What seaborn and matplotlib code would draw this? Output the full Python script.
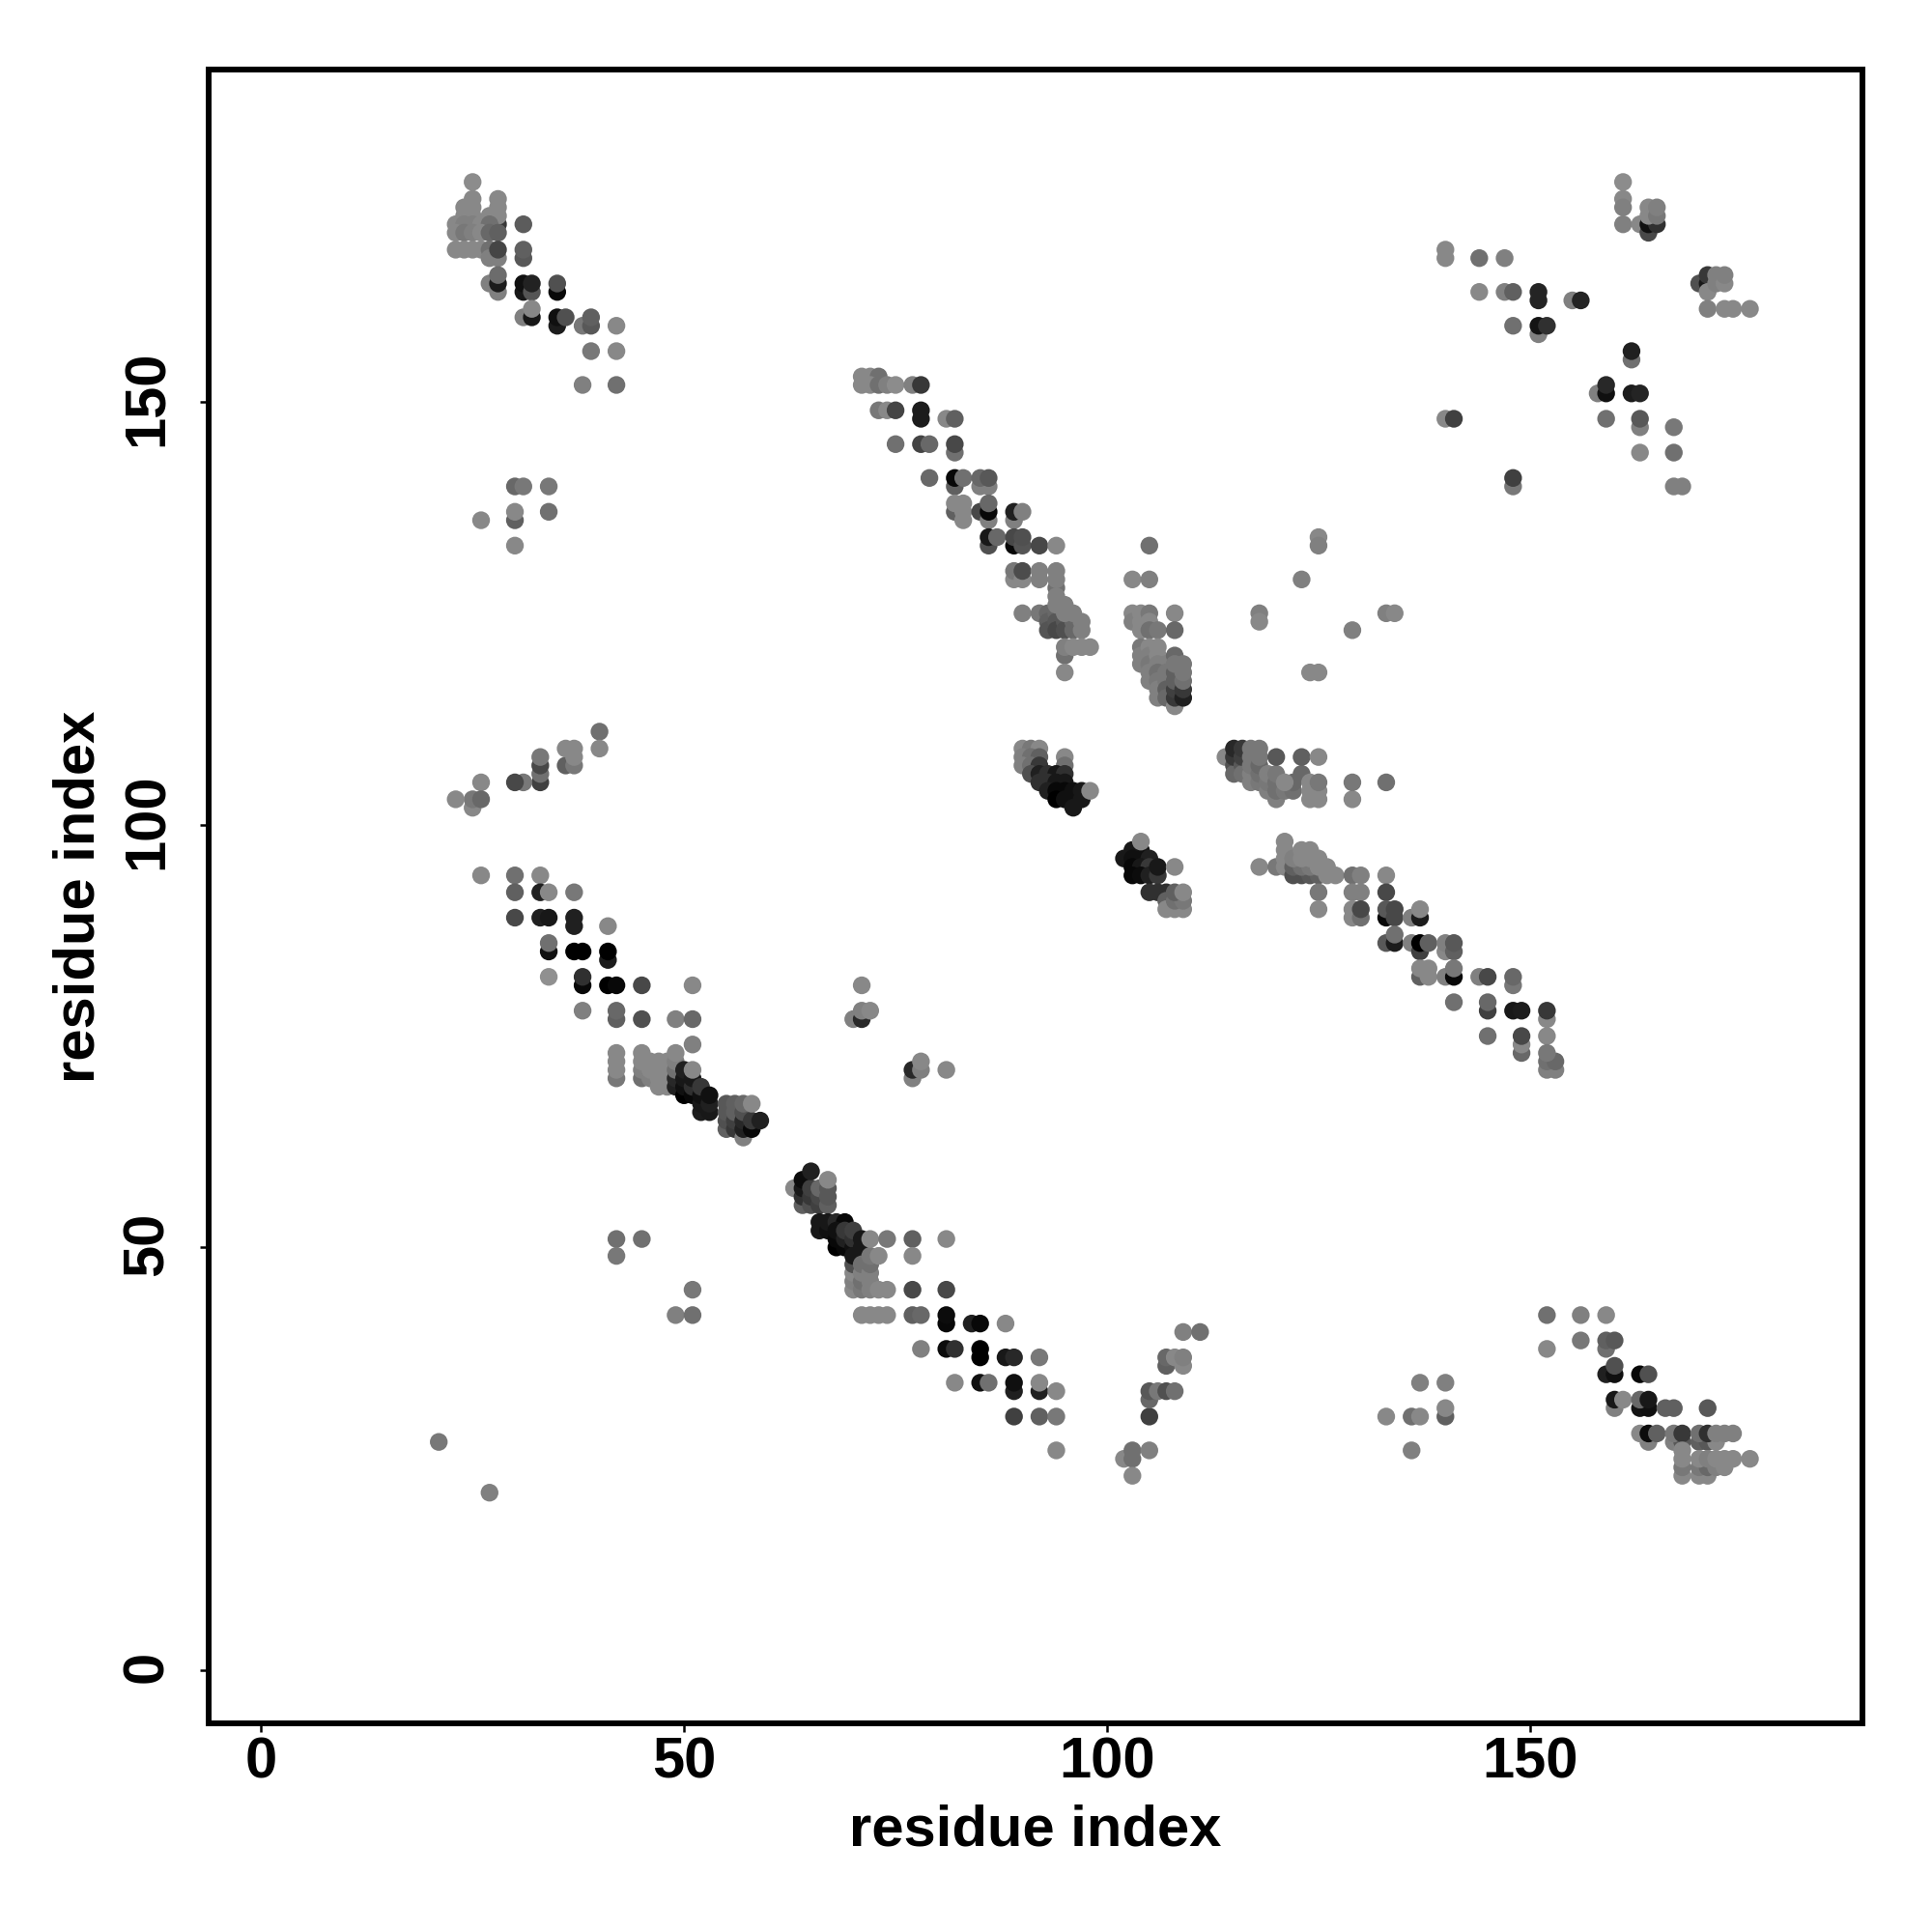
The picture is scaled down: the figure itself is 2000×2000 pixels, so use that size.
import numpy as np
import pandas as pd
import seaborn as sns
import matplotlib.pyplot as plt
from matplotlib.transforms import ScaledTranslation

# contacts as (residue x, residue y, grey level 0-255)
upper_left = [
    (25, 176, 0x8c), (25, 174, 0x88), (28, 174, 0x88), (24, 173, 0x88), (25, 173, 0x88), (28, 173, 0x88),
    (24, 172, 0x88), (25, 172, 0x88), (27, 172, 0x88), (28, 171, 0x38), (28, 172, 0x88), (23, 171, 0x88),
    (24, 171, 0x80), (25, 171, 0x80), (26, 171, 0x88), (27, 171, 0x70), (31, 171, 0x5c), (23, 170, 0x88),
    (24, 170, 0x78), (25, 170, 0x80), (26, 170, 0x88), (27, 170, 0x68), (28, 170, 0x60), (23, 168, 0x88),
    (24, 168, 0x88), (25, 168, 0x88), (26, 168, 0x88), (27, 168, 0x70), (27, 167, 0x80), (28, 167, 0x80),
    (28, 168, 0x45), (31, 167, 0x58), (31, 168, 0x60), (27, 164, 0x80), (28, 163, 0x80), (28, 164, 0x1c),
    (28, 165, 0x6c), (31, 163, 0x18), (31, 164, 0x10), (32, 163, 0x55), (32, 164, 0x22), (35, 163, 0x08),
    (35, 164, 0x50), (31, 160, 0x80), (32, 160, 0x18), (32, 161, 0x88), (35, 159, 0x1c), (35, 160, 0x10),
    (36, 160, 0x50), (38, 159, 0x78), (39, 159, 0x58), (39, 160, 0x60), (42, 159, 0x88), (39, 156, 0x78),
    (42, 156, 0x88), (38, 152, 0x80), (42, 152, 0x70), (30, 140, 0x68), (31, 140, 0x78), (34, 140, 0x78),
    (30, 136, 0x60), (30, 137, 0x88), (34, 137, 0x70), (26, 136, 0x88), (30, 133, 0x88),
]
upper_diagonal = [
    (71, 153, 0x88), (72, 153, 0x88), (73, 153, 0x70), (71, 152, 0x88), (72, 152, 0x88), (73, 152, 0x70),
    (74, 152, 0x80), (75, 152, 0x8c), (77, 152, 0x80), (78, 152, 0x38), (73, 149, 0x78), (74, 149, 0x88),
    (75, 149, 0x44), (78, 149, 0x1c), (78, 148, 0x1c), (81, 148, 0x88), (82, 148, 0x60), (75, 145, 0x70),
    (78, 145, 0x44), (79, 145, 0x68), (82, 144, 0x70), (82, 145, 0x48), (79, 141, 0x68), (82, 140, 0x60),
    (82, 141, 0x08), (83, 141, 0x70), (85, 140, 0x80), (86, 140, 0x80), (85, 141, 0x68), (86, 141, 0x58),
    (82, 137, 0x60), (82, 138, 0x88), (83, 137, 0x88), (83, 138, 0x88), (83, 136, 0x88), (85, 137, 0x48),
    (86, 136, 0x80), (86, 137, 0x08), (86, 138, 0x68), (89, 136, 0x80), (89, 137, 0x20), (90, 137, 0x80),
    (86, 133, 0x50), (86, 134, 0x18), (87, 134, 0x68), (89, 133, 0x08), (89, 134, 0x48), (90, 133, 0x55),
    (90, 134, 0x50), (92, 133, 0x48), (94, 133, 0x88), (105, 133, 0x70), (89, 129, 0x88), (89, 130, 0x78),
    (90, 129, 0x88), (90, 130, 0x4c), (92, 129, 0x80), (92, 130, 0x80), (94, 128, 0x70), (94, 129, 0x80),
    (94, 130, 0x80), (103, 129, 0x88), (105, 129, 0x80), (90, 125, 0x80), (92, 125, 0x78), (93, 125, 0x68),
    (93, 124, 0x60), (93, 123, 0x54), (94, 125, 0x68), (94, 124, 0x58), (94, 123, 0x48), (95, 124, 0x58),
    (95, 123, 0x50), (96, 124, 0x68), (96, 123, 0x68), (94, 127, 0x80), (94, 126, 0x80), (95, 126, 0x80),
    (95, 125, 0x80), (96, 125, 0x80), (97, 124, 0x80), (97, 123, 0x80), (95, 120, 0x70), (95, 121, 0x80),
    (96, 121, 0x88), (97, 121, 0x88), (98, 121, 0x88), (95, 118, 0x88),
]
loop_cluster = [
    (103, 125, 0x88), (103, 124, 0x80), (104, 125, 0x88), (104, 124, 0x88), (105, 125, 0x78), (105, 124, 0x88),
    (108, 125, 0x88), (104, 123, 0x88), (105, 123, 0x70), (106, 123, 0x78), (108, 123, 0x68), (104, 121, 0x78),
    (104, 120, 0x80), (104, 119, 0x80), (105, 121, 0x88), (105, 120, 0x80), (105, 119, 0x78), (106, 121, 0x88),
    (106, 120, 0x88), (106, 119, 0x80), (107, 119, 0x80), (105, 118, 0x80), (105, 117, 0x80), (106, 118, 0x70),
    (106, 117, 0x78), (106, 116, 0x80), (106, 115, 0x80), (107, 118, 0x78), (107, 117, 0x78), (107, 116, 0x60),
    (107, 115, 0x68), (108, 114, 0x88), (108, 115, 0x38), (108, 116, 0x40), (108, 117, 0x60), (108, 118, 0x60),
    (108, 120, 0x68), (108, 119, 0x78), (109, 115, 0x20), (109, 116, 0x38), (109, 117, 0x70), (109, 118, 0x78),
    (109, 119, 0x78), (118, 125, 0x80), (118, 124, 0x88), (123, 129, 0x80), (125, 134, 0x88), (125, 133, 0x80),
    (129, 123, 0x80), (133, 125, 0x80), (134, 125, 0x88), (124, 118, 0x88), (125, 118, 0x88),
]
hairpin_upper = [
    (90, 109, 0x88), (91, 109, 0x78), (92, 109, 0x88), (90, 108, 0x80), (91, 108, 0x70), (92, 108, 0x60),
    (90, 107, 0x80), (91, 107, 0x70), (92, 107, 0x38), (95, 108, 0x88), (95, 107, 0x70), (91, 106, 0x50),
    (92, 106, 0x20), (93, 106, 0x30), (94, 106, 0x18), (95, 106, 0x30), (92, 105, 0x30), (93, 105, 0x30),
    (94, 105, 0x18), (95, 105, 0x18), (93, 104, 0x20), (94, 104, 0x08), (95, 104, 0x08), (96, 104, 0x10),
    (94, 103, 0x00), (95, 103, 0x10), (96, 103, 0x10), (97, 103, 0x18), (97, 104, 0x18), (96, 102, 0x18),
    (98, 104, 0x88),
]
hairpin_lower = [
    (103, 97, 0x18), (104, 97, 0x18), (102, 96, 0x18), (103, 96, 0x10), (104, 96, 0x10), (105, 96, 0x20),
    (103, 95, 0x08), (104, 95, 0x18), (105, 95, 0x38), (103, 94, 0x08), (104, 94, 0x0c), (105, 94, 0x20),
    (106, 94, 0x38), (106, 95, 0x18), (104, 98, 0x88), (108, 95, 0x88), (105, 92, 0x30), (106, 92, 0x30),
    (107, 92, 0x30), (107, 91, 0x60), (107, 90, 0x88), (108, 90, 0x88), (109, 90, 0x88), (108, 91, 0x70),
    (109, 91, 0x78), (108, 92, 0x60), (109, 92, 0x88),
]
right_band = [
    (114, 108, 0x88), (115, 107, 0x50), (115, 106, 0x68), (115, 108, 0x38), (115, 109, 0x28), (116, 107, 0x58),
    (116, 106, 0x70), (116, 108, 0x40), (116, 109, 0x38), (117, 106, 0x80), (117, 105, 0x80), (117, 107, 0x78),
    (117, 108, 0x78), (117, 109, 0x78), (118, 105, 0x78), (118, 106, 0x70), (118, 107, 0x68), (118, 108, 0x78),
    (118, 109, 0x78), (119, 104, 0x80), (119, 105, 0x78), (119, 106, 0x80), (120, 103, 0x80), (120, 104, 0x70),
    (120, 105, 0x70), (120, 106, 0x78), (120, 108, 0x58), (121, 104, 0x78), (122, 104, 0x70), (122, 105, 0x68),
    (121, 105, 0x88), (123, 106, 0x68), (123, 108, 0x60), (124, 103, 0x88), (125, 103, 0x88), (124, 104, 0x88),
    (125, 104, 0x88), (124, 105, 0x88), (125, 105, 0x78), (125, 108, 0x88), (129, 103, 0x88), (129, 105, 0x78),
    (133, 105, 0x70), (118, 95, 0x88), (120, 95, 0x78), (121, 95, 0x88), (121, 96, 0x88), (121, 97, 0x88),
    (121, 98, 0x88), (122, 94, 0x50), (123, 94, 0x50), (124, 94, 0x58), (125, 94, 0x60), (122, 95, 0x60),
    (123, 95, 0x70), (124, 95, 0x78), (122, 96, 0x80), (123, 96, 0x88), (124, 96, 0x88), (125, 95, 0x88),
    (125, 96, 0x88), (126, 94, 0x88), (126, 95, 0x88), (127, 94, 0x88), (123, 97, 0x88), (124, 97, 0x88),
    (125, 92, 0x78), (125, 90, 0x88), (129, 94, 0x70), (130, 94, 0x80), (133, 94, 0x88), (129, 92, 0x80),
    (130, 92, 0x80), (133, 92, 0x48), (129, 90, 0x88), (129, 89, 0x88), (130, 89, 0x70), (130, 90, 0x48),
    (133, 89, 0x08), (133, 90, 0x58), (134, 89, 0x48), (134, 90, 0x48), (136, 89, 0x80), (137, 89, 0x1c),
    (137, 90, 0x88), (133, 86, 0x58), (134, 86, 0x1c), (134, 87, 0x70), (136, 86, 0x80), (137, 85, 0x40),
    (137, 86, 0x00), (138, 86, 0x60), (140, 85, 0x88), (140, 86, 0x80), (141, 85, 0x60), (141, 86, 0x58),
    (137, 82, 0x60), (138, 82, 0x88), (137, 83, 0x88), (138, 83, 0x88), (140, 82, 0x80), (141, 82, 0x08),
    (141, 83, 0x78), (144, 82, 0x80), (145, 82, 0x48), (148, 81, 0x78), (148, 82, 0x68), (141, 79, 0x70),
    (145, 78, 0x40), (145, 79, 0x68), (148, 78, 0x18), (149, 78, 0x1c), (152, 77, 0x88), (152, 78, 0x38),
    (145, 75, 0x70), (149, 73, 0x68), (149, 74, 0x88), (149, 75, 0x48), (152, 75, 0x88), (152, 71, 0x80),
    (153, 71, 0x80), (152, 72, 0x70), (153, 72, 0x68), (152, 73, 0x78),
]
mid_left = [
    (40, 111, 0x70), (40, 109, 0x88), (36, 107, 0x60), (37, 107, 0x78), (37, 108, 0x88), (36, 109, 0x88),
    (37, 109, 0x88), (33, 105, 0x40), (33, 106, 0x70), (33, 107, 0x48), (33, 108, 0x78), (31, 105, 0x78),
    (30, 105, 0x48), (26, 105, 0x88), (25, 102, 0x88), (25, 103, 0x78), (26, 103, 0x68), (23, 103, 0x88),
    (26, 94, 0x88), (30, 94, 0x70), (33, 94, 0x88), (30, 92, 0x60), (33, 92, 0x20), (34, 92, 0x88),
    (37, 92, 0x78), (30, 89, 0x48), (33, 89, 0x20), (34, 89, 0x18), (37, 88, 0x20), (37, 89, 0x20),
    (41, 88, 0x88), (34, 85, 0x10), (34, 86, 0x70), (37, 85, 0x00), (38, 85, 0x00), (41, 84, 0x1c),
    (41, 85, 0x00), (34, 82, 0x90), (38, 81, 0x08), (38, 82, 0x30), (41, 81, 0x00), (42, 81, 0x08),
    (45, 81, 0x48), (51, 81, 0x88), (38, 78, 0x80), (42, 77, 0x60), (42, 78, 0x68), (45, 77, 0x50),
    (49, 77, 0x80), (51, 77, 0x68), (51, 74, 0x80),
]
lower_diagonal = [
    (42, 70, 0x78), (42, 71, 0x88), (42, 72, 0x88), (42, 73, 0x88), (45, 70, 0x70), (45, 71, 0x80),
    (45, 72, 0x88), (45, 73, 0x88), (46, 70, 0x80), (46, 71, 0x88), (46, 72, 0x88), (47, 69, 0x88),
    (47, 70, 0x88), (47, 71, 0x88), (47, 72, 0x88), (48, 69, 0x88), (48, 70, 0x88), (48, 71, 0x88),
    (48, 72, 0x88), (49, 69, 0x20), (49, 70, 0x28), (49, 71, 0x70), (49, 72, 0x80), (49, 73, 0x88),
    (50, 68, 0x00), (50, 69, 0x10), (50, 70, 0x18), (50, 71, 0x20), (51, 68, 0x08), (51, 69, 0x30),
    (51, 70, 0x18), (51, 71, 0x88), (52, 66, 0x1c), (52, 67, 0x18), (52, 68, 0x10), (52, 69, 0x38),
    (53, 66, 0x18), (53, 67, 0x20), (53, 68, 0x10), (55, 64, 0x60), (55, 65, 0x50), (55, 66, 0x58),
    (55, 67, 0x58), (56, 64, 0x38), (56, 65, 0x40), (56, 66, 0x60), (56, 67, 0x60), (57, 63, 0x80),
    (57, 64, 0x20), (57, 65, 0x28), (57, 66, 0x50), (57, 67, 0x68), (58, 64, 0x08), (58, 65, 0x38),
    (58, 67, 0x88), (59, 65, 0x20), (63, 57, 0x88), (64, 55, 0x60), (64, 56, 0x30), (64, 57, 0x18),
    (64, 58, 0x0c), (65, 55, 0x50), (65, 56, 0x38), (65, 57, 0x40), (65, 59, 0x20), (66, 55, 0x40),
    (66, 56, 0x48), (66, 57, 0x68), (67, 55, 0x60), (67, 56, 0x58), (67, 57, 0x58), (67, 58, 0x88),
    (66, 52, 0x18), (66, 53, 0x18), (67, 52, 0x10), (67, 53, 0x18), (68, 53, 0x28), (69, 53, 0x08),
    (68, 50, 0x00), (68, 51, 0x08), (68, 52, 0x10), (69, 50, 0x08), (69, 51, 0x20), (69, 52, 0x38),
    (70, 50, 0x10), (70, 51, 0x30), (70, 52, 0x40), (70, 45, 0x88), (70, 46, 0x80), (70, 47, 0x88),
    (70, 48, 0x50), (70, 49, 0x18), (71, 49, 0x18), (71, 50, 0x18), (71, 51, 0x18), (71, 45, 0x78),
    (71, 46, 0x70), (71, 47, 0x80), (71, 48, 0x70), (72, 45, 0x80), (72, 46, 0x80), (72, 47, 0x80),
    (72, 48, 0x70), (72, 49, 0x78), (72, 51, 0x88), (73, 45, 0x88), (73, 49, 0x88), (74, 45, 0x88),
    (74, 51, 0x78), (71, 42, 0x88), (72, 42, 0x88), (73, 42, 0x88), (74, 42, 0x88), (77, 51, 0x60),
    (81, 51, 0x88), (77, 49, 0x88), (77, 45, 0x48), (81, 45, 0x48), (77, 42, 0x60), (78, 42, 0x68),
    (81, 41, 0x08), (81, 42, 0x0c), (84, 41, 0x20), (85, 41, 0x08), (88, 41, 0x88), (78, 38, 0x80),
    (81, 38, 0x0c), (82, 38, 0x30), (85, 37, 0x00), (85, 38, 0x00), (88, 37, 0x18), (89, 37, 0x28),
    (92, 37, 0x78), (82, 34, 0x88), (85, 34, 0x10), (86, 34, 0x70), (89, 33, 0x20), (89, 34, 0x10),
    (92, 33, 0x20), (92, 34, 0x88), (94, 33, 0x88), (89, 30, 0x40), (92, 30, 0x60), (94, 30, 0x78),
    (94, 26, 0x88),
]
lower_arm = [
    (105, 30, 0x40), (102, 25, 0x88), (103, 25, 0x70), (103, 26, 0x70), (105, 26, 0x80), (103, 23, 0x88),
    (105, 32, 0x68), (105, 33, 0x58), (106, 33, 0x78), (107, 33, 0x50), (108, 33, 0x70), (107, 36, 0x60),
    (107, 37, 0x68), (108, 37, 0x88), (109, 36, 0x88), (109, 37, 0x80), (109, 40, 0x80), (111, 40, 0x70),
]
upper_right = [
    (161, 176, 0x8c), (161, 174, 0x88), (161, 173, 0x80), (161, 171, 0x80), (163, 171, 0x88), (164, 170, 0x48),
    (164, 171, 0x10), (165, 171, 0x30), (164, 172, 0x88), (164, 173, 0x88), (165, 172, 0x78), (165, 173, 0x80),
    (140, 167, 0x88), (140, 168, 0x88), (144, 167, 0x70), (147, 167, 0x80), (144, 163, 0x88), (147, 163, 0x80),
    (148, 163, 0x60), (151, 162, 0x24), (151, 163, 0x24), (155, 162, 0x80), (156, 162, 0x24), (148, 159, 0x70),
    (151, 158, 0x80), (151, 159, 0x14), (152, 159, 0x30), (170, 164, 0x50), (171, 164, 0x18), (171, 165, 0x38),
    (171, 163, 0x88), (172, 164, 0x80), (172, 165, 0x80), (173, 164, 0x88), (173, 165, 0x80), (171, 161, 0x80),
    (173, 161, 0x88), (174, 161, 0x88), (176, 161, 0x88), (162, 155, 0x70), (162, 156, 0x20), (158, 151, 0x80),
    (159, 151, 0x10), (159, 152, 0x28), (162, 151, 0x1c), (163, 151, 0x24), (140, 148, 0x88), (141, 148, 0x40),
    (159, 148, 0x70), (163, 147, 0x80), (163, 148, 0x58), (167, 147, 0x78), (163, 144, 0x88), (167, 144, 0x70),
    (148, 140, 0x78), (148, 141, 0x40), (167, 140, 0x80), (168, 140, 0x80),
]
lower_right = [
    (152, 42, 0x70), (156, 42, 0x80), (159, 42, 0x88), (152, 38, 0x88), (156, 39, 0x78), (159, 38, 0x70),
    (159, 39, 0x60), (160, 39, 0x58), (159, 35, 0x20), (160, 35, 0x10), (160, 36, 0x50), (163, 35, 0x08),
    (164, 35, 0x50), (160, 31, 0x80), (160, 32, 0x18), (161, 32, 0x88), (163, 31, 0x14), (164, 31, 0x10),
    (163, 32, 0x68), (164, 32, 0x18), (166, 31, 0x60), (167, 31, 0x60), (171, 31, 0x58), (164, 27, 0x80),
    (163, 28, 0x88), (164, 28, 0x0c), (165, 28, 0x60), (167, 27, 0x80), (168, 27, 0x58), (167, 28, 0x78),
    (168, 28, 0x38), (170, 27, 0x60), (171, 27, 0x58), (172, 27, 0x88), (170, 28, 0x70), (171, 28, 0x30),
    (172, 28, 0x80), (173, 28, 0x80), (174, 28, 0x80), (168, 23, 0x88), (168, 24, 0x78), (168, 25, 0x88),
    (168, 26, 0x88), (170, 23, 0x88), (171, 23, 0x88), (170, 24, 0x78), (171, 24, 0x68), (172, 24, 0x80),
    (173, 24, 0x88), (170, 25, 0x88), (171, 25, 0x80), (172, 25, 0x88), (173, 25, 0x88), (174, 25, 0x88),
    (176, 25, 0x88),
]
isolated = [
    (21, 27, 0x78), (27, 21, 0x80), (42, 51, 0x70), (42, 49, 0x78), (45, 51, 0x70), (49, 42, 0x80),
    (51, 45, 0x78), (51, 42, 0x70), (71, 81, 0x88), (70, 77, 0x80), (71, 77, 0x28), (71, 78, 0x80),
    (72, 78, 0x88), (77, 70, 0x80), (77, 71, 0x28), (78, 71, 0x80), (78, 72, 0x88), (81, 71, 0x88),
    (133, 30, 0x88), (136, 26, 0x80), (136, 30, 0x70), (137, 30, 0x88), (137, 34, 0x80), (140, 34, 0x80),
    (140, 30, 0x60), (140, 31, 0x88),
]

tick_values = [0, 50, 100, 150]
axis_label = "residue index"

sns.set_theme(style="white", rc={"font.family": ["Liberation Sans", "DejaVu Sans"], "font.weight": "bold"})

blocks = [upper_left, upper_diagonal, loop_cluster, hairpin_upper, hairpin_lower, right_band, mid_left,
          lower_diagonal, lower_arm, upper_right, lower_right, isolated]
contacts = pd.DataFrame([p for b in blocks for p in b], columns=["res_x", "res_y", "shade"])

fig = plt.figure(figsize=(20, 20), dpi=100)
ax = fig.add_axes([216.3 / 2000, 1 - 1784 / 2000, 1711.7 / 2000, 1712 / 2000])

sns.scatterplot(data=contacts, x="res_x", y="res_y", hue="shade", palette="gray", hue_norm=(0, 255),
                s=175, linewidth=0, legend=False, ax=ax, clip_on=False)

ax.set_xlim(-6.17, 189.3)
ax.set_ylim(-6.28, 189.3)
ax.set_xticks(tick_values)
ax.set_yticks(tick_values)
ax.tick_params(axis="both", length=6.8, width=1.8, color="black", labelsize=43, labelcolor="black",
               bottom=True, left=True, pad=3)
ax.tick_params(axis="y", pad=19)
# rotated y labels sit a little low otherwise
nudge = ScaledTranslation(0, 3.5 / 100, fig.dpi_scale_trans)
for t in ax.get_yticklabels():
    t.set_rotation(90)
    t.set_va("center")
    t.set_transform(t.get_transform() + nudge)
for s in ax.spines.values():
    s.set_linewidth(4.3)
    s.set_color("black")
    s.set_visible(True)

ax.set_xlabel("")
ax.set_ylabel("")
fig.text(1072 / 2000, 1 - 1895 / 2000, axis_label, fontsize=43, fontweight="bold", ha="center", va="center", color="black")
fig.text(82 / 2000, 1 - 928 / 2000, axis_label, fontsize=43, fontweight="bold", rotation=90, ha="center", va="center", color="black")

fig.savefig("out.png", dpi=100)
